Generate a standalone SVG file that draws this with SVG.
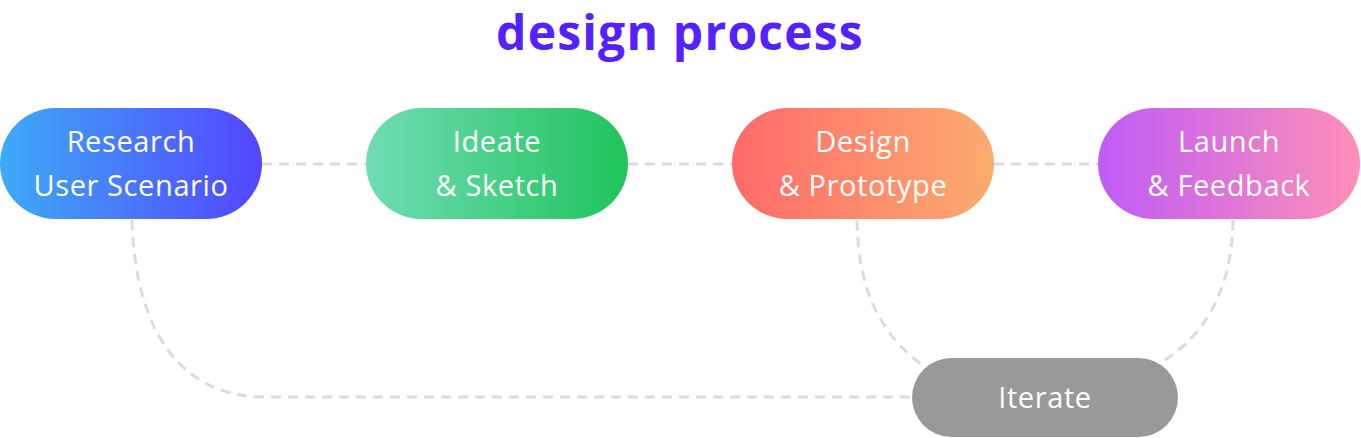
<svg xmlns="http://www.w3.org/2000/svg" width="1361" height="438" viewBox="0 0 1361 438">
<style>
.t{font-family:"Open Sans","Lato",sans-serif;font-size:29px;letter-spacing:0.6px;fill:#fff;text-anchor:middle}
.c{fill:none;stroke:#dcdcdc;stroke-width:3;stroke-dasharray:10 7}
</style>
<defs>
<linearGradient id="g1" x1="0" x2="1"><stop offset="0" stop-color="#3eaaf7"/><stop offset="1" stop-color="#5345ff"/></linearGradient>
<linearGradient id="g2" x1="0" x2="1"><stop offset="0" stop-color="#70dcb3"/><stop offset="1" stop-color="#20c45c"/></linearGradient>
<linearGradient id="g3" x1="0" x2="1"><stop offset="0" stop-color="#ff6a6a"/><stop offset="1" stop-color="#fbac6e"/></linearGradient>
<linearGradient id="g4" x1="0" x2="1"><stop offset="0" stop-color="#bf5cf6"/><stop offset="1" stop-color="#ff8fb8"/></linearGradient>
</defs>
<rect width="1361" height="438" fill="#fff"/>
<text x="680" y="50" style="font-family:'Open Sans','Lato',sans-serif;font-weight:bold;font-size:48px;letter-spacing:1.2px;fill:#5522ff;text-anchor:middle">design process</text>
<g id="connectors">
<path class="c" d="M262 164H366"/>
<path class="c" d="M628 164H732"/>
<path class="c" d="M994 164H1098"/>
<path class="c" d="M132 220C135 330 180 397 265 397H912"/>
<path class="c" d="M857 220C858 290 880 335 925 367"/>
<path class="c" d="M1233 220C1232 290 1205 335 1162 362"/>
</g>
<g id="research"><rect x="0" y="108" width="262" height="111" rx="55.5" fill="url(#g1)"/><text class="t" x="131" y="152">Research</text><text class="t" x="131" y="196">User Scenario</text></g>
<g id="ideate"><rect x="366" y="108" width="262" height="111" rx="55.5" fill="url(#g2)"/><text class="t" x="497" y="152">Ideate</text><text class="t" x="497" y="196">&amp; Sketch</text></g>
<g id="design"><rect x="732" y="108" width="262" height="111" rx="55.5" fill="url(#g3)"/><text class="t" x="863" y="152">Design</text><text class="t" x="863" y="196">&amp; Prototype</text></g>
<g id="launch"><rect x="1098" y="108" width="262" height="111" rx="55.5" fill="url(#g4)"/><text class="t" x="1229" y="152">Launch</text><text class="t" x="1229" y="196">&amp; Feedback</text></g>
<g id="iterate"><rect x="912" y="358" width="266" height="79" rx="39.5" fill="#999"/><text class="t" x="1045" y="408">Iterate</text></g>
</svg>
